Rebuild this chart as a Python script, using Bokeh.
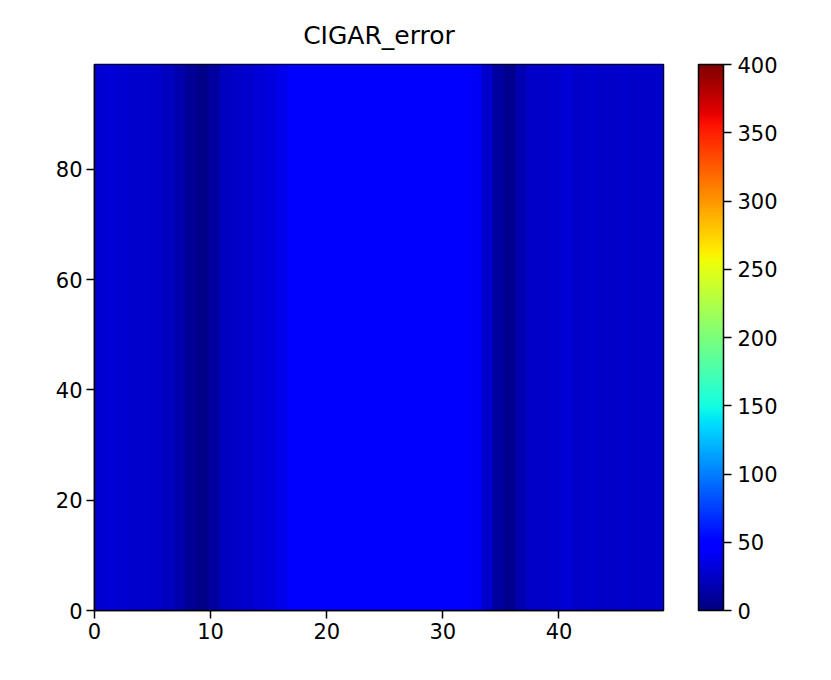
import numpy as np
from bokeh.plotting import figure
from bokeh.models import LinearColorMapper, ColorBar, FixedTicker, Range1d
from bokeh.embed import file_html
from bokeh.resources import INLINE

# ---- data ----
title = "CIGAR_error"
n_rows = 100
col_values = [29, 30, 29, 28, 28, 26, 22, 17, 8, 4,
              12, 22, 25, 27, 30, 34, 38, 44, 46, 47,
              47, 48, 48, 48, 47, 47, 48, 48, 47, 47,
              47, 46, 46, 42, 28, 12, 6, 18, 26, 25,
              28, 30, 26, 27, 25, 26, 27, 25, 26, 26]
x_ticks = [0, 10, 20, 30, 40]
y_ticks = [0, 20, 40, 60, 80]
cbar_ticks = [0, 50, 100, 150, 200, 250, 300, 350, 400]
vmin, vmax = 0, 400

# ---- jet palette ----
def jet(n=256):
    t = np.linspace(0, 1, n)
    r = np.interp(t, [0, 0.35, 0.66, 0.89, 1], [0, 0, 1, 1, 0.5])
    g = np.interp(t, [0, 0.125, 0.375, 0.64, 0.91, 1], [0, 0, 1, 1, 0, 0])
    b = np.interp(t, [0, 0.11, 0.34, 0.65, 1], [0.5, 1, 1, 0, 0])
    return ["#%02x%02x%02x" % (int(round(a * 255)), int(round(c * 255)), int(round(d * 255)))
            for a, c, d in zip(r, g, b)]

palette = jet()
grid = np.tile(np.array(col_values, dtype=float), (n_rows, 1))

FONT = "DejaVu Sans"
TICK_FS = "21px"
p = figure(output_backend="svg", toolbar_location=None,
           frame_width=569, frame_height=546,
           x_range=Range1d(0, len(col_values) - 1), y_range=Range1d(0, n_rows - 1),
           min_border_left=94, min_border_top=64, min_border_bottom=60, min_border_right=10,
           title=title)
p.title.align = "center"
p.title.text_font = FONT
p.title.text_font_size = "25px"
p.title.text_font_style = "normal"
p.title.text_color = "black"
p.title.standoff = 30

mapper = LinearColorMapper(palette=palette, low=vmin, high=vmax)
p.image(image=[grid], x=0, y=0, dw=len(col_values) - 1, dh=n_rows - 1, color_mapper=mapper)

p.grid.visible = False
p.outline_line_color = "black"
p.outline_line_width = 1.5
for ax, ticks in ((p.xaxis, x_ticks), (p.yaxis, y_ticks)):
    ax.ticker = FixedTicker(ticks=ticks)
    ax.minor_tick_line_color = None
    ax.major_tick_in = 0
    ax.major_tick_out = 8
    ax.major_tick_line_width = 1.5
    ax.axis_line_width = 1.5
    ax.major_label_text_font = FONT
    ax.major_label_text_font_size = TICK_FS
    ax.major_label_text_color = "black"
    ax.major_label_standoff = 4

cb = ColorBar(color_mapper=mapper, ticker=FixedTicker(ticks=cbar_ticks),
              width=25, height=546, padding=0, margin=0, location=(35, 0),
              major_tick_in=0, major_tick_out=8, major_tick_line_color="black",
              major_tick_line_width=1.5, bar_line_color="black", bar_line_width=1.5,
              major_label_text_font=FONT, major_label_text_font_size=TICK_FS,
              major_label_text_color="black",
              label_standoff=6, background_fill_alpha=0, minor_tick_line_color=None)
p.add_layout(cb, "right")

open("out.html", "w").write(file_html(p, INLINE))
